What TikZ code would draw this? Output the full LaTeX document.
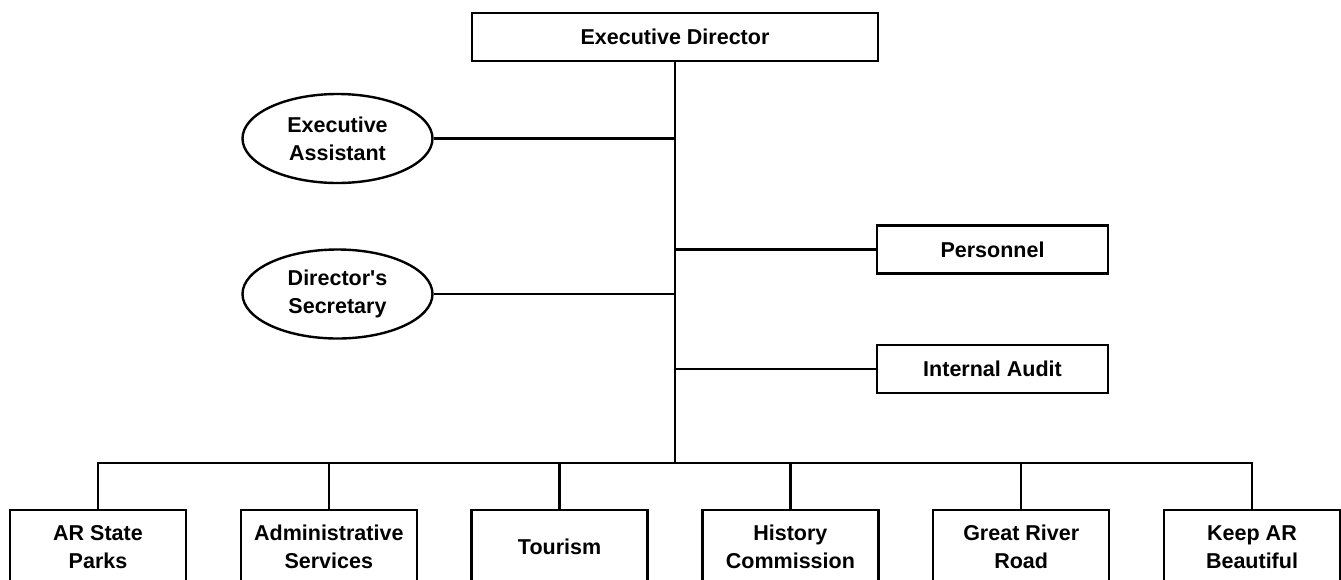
\documentclass[tikz,border=0pt]{standalone}
\usepackage{fontspec}
\setmainfont{Liberation Sans}
\newfontfamily\orgfont{Liberation Sans}
\usetikzlibrary{positioning,shapes.geometric}

\tikzset{
  orgtext/.style={align=center, font=\orgfont\bfseries\fontsize{21.5}{28}\selectfont},
  topbox/.style={draw, orgtext, minimum width=406pt, minimum height=48pt, inner sep=0pt},
  staffbox/.style={draw, orgtext, minimum width=231pt, minimum height=48pt, inner sep=0pt},
  aide/.style={draw, ellipse, orgtext, minimum width=190pt, minimum height=89pt, inner sep=0pt},
  unit/.style={draw, orgtext, minimum width=176pt, minimum height=74pt, inner sep=0pt}
}

\begin{document}
\begin{tikzpicture}[x=1pt, y=-1pt, line width=2.4pt, node distance=52.4pt]
        \useasboundingbox (0,0) rectangle (1341,579);
        \node[topbox] (exec) at (675,37) {Executive Director};
        \node[aide] (assist) at (337.5,138.5) {Executive\\Assistant};
        \node[aide] (secretary) at (337.5,294) {Director's\\Secretary};
        \node[staffbox] (personnel) at (992.5,249.5) {Personnel};
        \node[staffbox] (audit) at (992.5,369) {Internal Audit};
        \coordinate (bus) at (675,463);
        % divisions
        \node[unit] (parks) at (98,547) {AR State\\Parks};
        \node[unit, right=of parks] (admin) {Administrative\\Services};
        \node[unit, right=of admin] (tourism) {Tourism};
        \node[unit, right=of tourism] (history) {History\\Commission};
        \node[unit, right=of history] (river) {Great River\\Road};
        \node[unit, right=of river] (beautiful) {Keep AR\\Beautiful};
        % lines
        \draw (exec.south) -- (exec.south |- bus);
        \draw (assist.east) -- (assist.east -| exec.south);
        \draw (secretary.east) -- (secretary.east -| exec.south);
        \draw (personnel.west) -- (personnel.west -| exec.south);
        \draw (audit.west) -- (audit.west -| exec.south);
        \draw (parks.north) -- (parks.north |- bus) -- (beautiful.north |- bus) -- (beautiful.north);
        \foreach \n in {admin,tourism,history,river}
            \draw (\n.north) -- (\n.north |- bus);
    \end{tikzpicture}
\end{document}
